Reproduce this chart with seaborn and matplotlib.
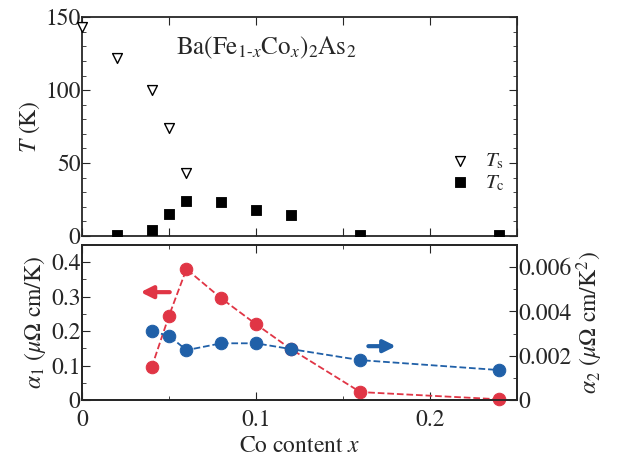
import matplotlib
matplotlib.use("Agg")
import numpy as np
import pandas as pd
import seaborn as sns
import matplotlib.pyplot as plt
from matplotlib.ticker import MultipleLocator

# data
x_ts = [0.0, 0.02, 0.04, 0.05, 0.06]
t_s = [143, 122, 100, 74, 43]
x_tc = [0.02, 0.04, 0.05, 0.06, 0.08, 0.10, 0.12, 0.16, 0.24]
t_c = [0.5, 4, 15, 24, 23, 18, 14.5, 0.5, 0.5]

x_a = [0.04, 0.05, 0.06, 0.08, 0.10, 0.12, 0.16, 0.24]
alpha1 = [0.095, 0.245, 0.38, 0.295, 0.22, 0.148, 0.023, 0.002]
alpha2 = [0.0031, 0.0029, 0.00225, 0.00256, 0.00256, 0.0023, 0.0018, 0.00135]

red = '#e03545'
blue = '#2060a8'

sns.set_style('ticks')
plt.rcParams['font.family'] = ['STIXGeneral', 'DejaVu Serif']
plt.rcParams['mathtext.fontset'] = 'stix'
plt.rcParams['xtick.direction'] = 'in'
plt.rcParams['ytick.direction'] = 'in'
plt.rcParams['axes.linewidth'] = 1.3
fs = 17

fig = plt.figure(figsize=(6.22, 4.65), dpi=100)
ax1 = fig.add_axes([0.132, 0.4925, 0.699, 0.4705])
ax2 = fig.add_axes([0.132, 0.1398, 0.699, 0.3334])

#%% top panel: Ts, Tc
df_s = pd.DataFrame({'x': x_ts, 'T': t_s})
df_c = pd.DataFrame({'x': x_tc, 'T': t_c})
sns.scatterplot(data=df_s, x='x', y='T', ax=ax1, marker='v', s=50,
                facecolor='white', edgecolor='black', linewidth=1.0,
                label=r'$T_{\rm s}$', clip_on=False, zorder=3)
sns.scatterplot(data=df_c, x='x', y='T', ax=ax1, marker='s', s=60,
                color='black', edgecolor='black',
                label=r'$T_{\rm c}$', zorder=3)
ax1.set_xlim(0, 0.25)
ax1.set_ylim(0, 150)
ax1.yaxis.set_major_locator(MultipleLocator(50))
ax1.yaxis.set_minor_locator(MultipleLocator(10))
ax1.xaxis.set_major_locator(MultipleLocator(0.05))
ax1.tick_params(which='both', top=True, right=True, labelbottom=False,
                labelsize=fs, pad=1)
ax1.tick_params(which='major', length=6)
ax1.tick_params(which='minor', length=3)
ax1.set_xlabel('')
ax1.set_ylabel(r'$T$ (K)', fontsize=fs, labelpad=2)
ax1.text(0.215, 0.83, r'Ba(Fe$_{1\text{-}x}$Co$_x$)$_2$As$_2$',
         transform=ax1.transAxes, fontsize=fs + 1)
ax1.legend(loc='lower right', bbox_to_anchor=(1.0, 0.14), frameon=False,
           fontsize=fs - 2, handletextpad=0.2, labelspacing=0.1,
           borderaxespad=0.2)

#%% bottom panel: alpha1 (left), alpha2 (right)
df_a = pd.DataFrame({'x': x_a, 'a1': alpha1, 'a2': alpha2})
sns.lineplot(data=df_a, x='x', y='a1', ax=ax2, color=red, marker='o',
             markersize=9, markeredgecolor=red, linestyle='--', linewidth=1.3,
             clip_on=False, zorder=3)
ax3 = ax2.twinx()
sns.lineplot(data=df_a, x='x', y='a2', ax=ax3, color=blue, marker='o',
             markersize=9, markeredgecolor=blue, linestyle='--', linewidth=1.3,
             clip_on=False, zorder=2)
ax2.set_xlim(0, 0.25)
ax2.set_ylim(0, 0.45)
ax3.set_ylim(0, 0.007)
ax2.xaxis.set_major_locator(MultipleLocator(0.1))
ax2.xaxis.set_minor_locator(MultipleLocator(0.05))
ax2.yaxis.set_major_locator(MultipleLocator(0.1))
ax2.yaxis.set_minor_locator(MultipleLocator(0.05))
ax3.yaxis.set_major_locator(MultipleLocator(0.002))
ax3.yaxis.set_minor_locator(MultipleLocator(0.001))
ax2.xaxis.set_major_formatter(plt.FuncFormatter(lambda v, p: '0' if v == 0 else '%g' % v))
ax2.yaxis.set_major_formatter(plt.FuncFormatter(lambda v, p: '0' if v == 0 else '%.1f' % v))
ax3.yaxis.set_major_formatter(plt.FuncFormatter(lambda v, p: '0' if v == 0 else '%.3f' % v))
ax2.tick_params(which='both', top=True, labelsize=fs, pad=1)
ax2.tick_params(axis='x', pad=7)
ax3.tick_params(which='both', labelsize=fs, pad=1)
for a in (ax2, ax3):
    a.tick_params(which='major', length=6)
    a.tick_params(which='minor', length=3)
ax2.set_xlabel(r'Co content $x$', fontsize=fs, labelpad=3)
ax2.set_ylabel(r'$\alpha_1$ ($\mu\Omega$ cm/K)', fontsize=fs, labelpad=2)
ax3.set_ylabel(r'$\alpha_2$ ($\mu\Omega$ cm/K$^2$)', fontsize=fs, labelpad=2,
               rotation=90)

# arrows indicating which axis
ax2.annotate('', xy=(0.032, 0.313), xytext=(0.052, 0.313),
             arrowprops=dict(arrowstyle='-|>', color=red, lw=3,
                             mutation_scale=18))
ax3.annotate('', xy=(0.182, 0.00243), xytext=(0.163, 0.00243),
             arrowprops=dict(arrowstyle='-|>', color=blue, lw=3,
                             mutation_scale=18))

plt.savefig('out.png', dpi=100)
